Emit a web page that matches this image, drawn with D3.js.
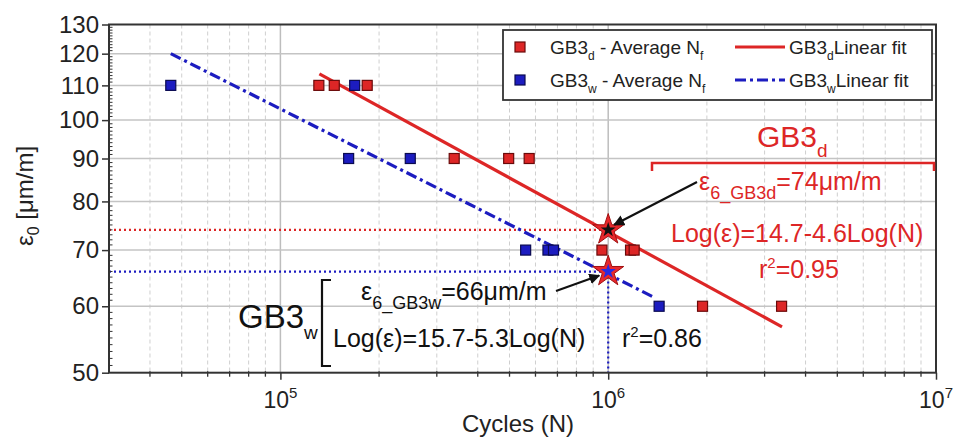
<!DOCTYPE html>
<html>
<head>
<meta charset="utf-8">
<script src="https://cdn.jsdelivr.net/npm/d3@7"></script>
<style>
  html, body { margin: 0; padding: 0; background: #fff; }
  svg { display: block; font-family: "Liberation Sans", Arial, sans-serif; }
</style>
</head>
<body>
<svg id="chart" width="955" height="437"></svg>
<script>
// Fatigue data: strain amplitude vs. average cycles to failure
const gb3dN = [1.31e5, 1.46e5, 1.84e5, 3.39e5, 4.97e5, 5.74e5, 9.57e5, 1.17e6, 1.2e6, 1.94e6, 3.38e6];
const gb3dE = [110, 110, 110, 90, 90, 90, 70, 70, 70, 60, 60];
const gb3wN = [4.63e4, 1.685e5, 1.615e5, 2.49e5, 5.6e5, 6.55e5, 6.81e5, 1.43e6];
const gb3wE = [110, 110, 90, 90, 70, 70, 70, 60];

// Linear fit (log-log) end points
const gb3dFitN = [1.315e5, 3.39e6];
const gb3dFitE = [113.5, 56.7];
const gb3wFitN = [4.63e4, 1.39e6];
const gb3wFitE = [120, 61.4];

// Strain at 10^6 cycles
const refN = 1e6;
const gb3dRefE = 74;
const gb3wRefE = 66;

// Axis ticks
const yMajorTicks = [50, 60, 70, 80, 90, 100, 110, 120, 130];
const xMajorTicks = [1e5, 1e6, 1e7];
const xTickExp = ["5", "6", "7"];

const RED = "#dd2626";
const RED_DARK = "#6a0a0a";
const BLUE = "#1c1cc0";
const BLUE_DARK = "#0a0a50";
const AXIS = "#333";

const svg = d3.select("#chart");
const L = 109, R = 936, T = 24.5, B = 372.7;

const x = d3.scaleLog().domain([3e4, 1e7]).range([L, R]);
const y = d3.scaleLog().domain([50, 130]).range([B, T]);

// Grid
const xMinor = [];
for (let e = 4; e <= 6; e++) for (let k = 1; k <= 9; k++) {
  const v = k * Math.pow(10, e);
  if (v > 3e4 && v < 1e7 && k !== 1) xMinor.push(v);
}
const grid = svg.append("g");
grid.selectAll(".vminor").data(xMinor).join("line")
  .attr("x1", d => x(d)).attr("x2", d => x(d)).attr("y1", T).attr("y2", B)
  .attr("stroke", "#cfcfcf").attr("stroke-width", 1).attr("stroke-dasharray", "4,3");
grid.selectAll(".vmajor").data([1e5, 1e6]).join("line")
  .attr("x1", d => x(d)).attr("x2", d => x(d)).attr("y1", T).attr("y2", B)
  .attr("stroke", "#bdbdbd").attr("stroke-width", 1.5);
grid.selectAll(".hmajor").data(yMajorTicks.slice(1, -1)).join("line")
  .attr("x1", L).attr("x2", R).attr("y1", d => y(d)).attr("y2", d => y(d))
  .attr("stroke", "#c4c4c4").attr("stroke-width", 1.5);

// Reference lines at 10^6 cycles
svg.append("line")
  .attr("x1", L).attr("x2", x(refN)).attr("y1", y(gb3dRefE)).attr("y2", y(gb3dRefE))
  .attr("stroke", RED).attr("stroke-width", 2.2).attr("stroke-dasharray", "2,3");
svg.append("line")
  .attr("x1", L).attr("x2", x(refN)).attr("y1", y(gb3wRefE)).attr("y2", y(gb3wRefE))
  .attr("stroke", BLUE).attr("stroke-width", 2.2).attr("stroke-dasharray", "2,3");
svg.append("line")
  .attr("x1", x(refN)).attr("x2", x(refN)).attr("y1", y(gb3wRefE)).attr("y2", B)
  .attr("stroke", BLUE).attr("stroke-width", 2.2).attr("stroke-dasharray", "2,3");

// Axes
const yAxis = svg.append("g").attr("transform", `translate(${L},0)`)
  .call(d3.axisLeft(y).tickValues(yMajorTicks).tickFormat(d3.format("d")).tickSize(7).tickSizeOuter(0));
yAxis.select(".domain").remove();
yAxis.selectAll("text").attr("font-size", 24).attr("fill", "#222").attr("x", -10)
  .style("font-family", "Liberation Sans, Arial, sans-serif");
yAxis.selectAll("line").attr("stroke", AXIS).attr("stroke-width", 1.5);

const yMinor = d3.range(50, 131, 1).filter(v => v % 10 !== 0);
svg.append("g").selectAll("line").data(yMinor).join("line")
  .attr("x1", L).attr("x2", L + 3.5).attr("y1", d => y(d)).attr("y2", d => y(d))
  .attr("stroke", AXIS).attr("stroke-width", 1);

const xAxis = svg.append("g").attr("transform", `translate(0,${B})`)
  .call(d3.axisBottom(x).tickValues(xMajorTicks).tickFormat("").tickSize(7).tickSizeOuter(0));
xAxis.select(".domain").remove();
xAxis.selectAll("line").attr("stroke", AXIS).attr("stroke-width", 1.5);
svg.append("g").selectAll("line").data(xMinor).join("line")
  .attr("x1", d => x(d)).attr("x2", d => x(d)).attr("y1", B - 1.5).attr("y2", B + 4)
  .attr("stroke", AXIS).attr("stroke-width", 1.3);

const xLab = svg.append("g").selectAll("text").data(xMajorTicks).join("text")
  .attr("x", d => x(d)).attr("y", 408).attr("text-anchor", "middle")
  .attr("font-size", 23).attr("fill", "#222");
xLab.append("tspan").text("10");
xLab.append("tspan").attr("dy", -10).attr("font-size", 15).text((d, i) => xTickExp[i]);

// Frame
svg.append("rect").attr("x", L).attr("y", T).attr("width", R - L).attr("height", B - T)
  .attr("fill", "none").attr("stroke", AXIS).attr("stroke-width", 2);

// Axis titles
svg.append("text").attr("x", 518).attr("y", 432).attr("text-anchor", "middle")
  .attr("font-size", 24).attr("fill", "#222").text("Cycles (N)");
const yt = svg.append("text").attr("transform", "translate(33,196) rotate(-90)")
  .attr("text-anchor", "middle").attr("font-size", 24).attr("fill", "#222");
yt.append("tspan").text("ε");
yt.append("tspan").attr("dy", 6).attr("font-size", 16).text("0");
yt.append("tspan").attr("dy", -6).text(" [μm/m]");

// Fit lines
const fitLine = d3.line().x(d => x(d[0])).y(d => y(d[1]));
svg.append("path").datum(d3.zip(gb3wFitN, gb3wFitE)).attr("d", fitLine)
  .attr("fill", "none").attr("stroke", BLUE).attr("stroke-width", 3.2)
  .attr("stroke-dasharray", "11,4,3,4");
svg.append("path").datum(d3.zip(gb3dFitN, gb3dFitE)).attr("d", fitLine)
  .attr("fill", "none").attr("stroke", RED).attr("stroke-width", 3.2);

// Data squares
const sq = 10;
svg.append("g").selectAll("rect").data(d3.zip(gb3dN, gb3dE)).join("rect")
  .attr("x", d => x(d[0]) - sq / 2).attr("y", d => y(d[1]) - sq / 2)
  .attr("width", sq).attr("height", sq)
  .attr("fill", RED).attr("stroke", RED_DARK).attr("stroke-width", 1.2);
svg.append("g").selectAll("rect").data(d3.zip(gb3wN, gb3wE)).join("rect")
  .attr("x", d => x(d[0]) - sq / 2).attr("y", d => y(d[1]) - sq / 2)
  .attr("width", sq).attr("height", sq)
  .attr("fill", BLUE).attr("stroke", BLUE_DARK).attr("stroke-width", 1.2);

// Stars at 10^6 cycles
const bigStar = d3.symbol().type(d3.symbolStar).size(300)();
const smallStar = d3.symbol().type(d3.symbolStar).size(70)();
[[gb3dRefE, "#111"], [gb3wRefE, "#2a2ae0"]].forEach(([e, c]) => {
  const g = svg.append("g").attr("transform", `translate(${x(refN)},${y(e)})`);
  g.append("path").attr("d", bigStar).attr("fill", "#e8282c").attr("stroke", "#a01010").attr("stroke-width", 1);
  g.append("path").attr("d", smallStar).attr("fill", c);
});

// Arrows
svg.append("defs").append("marker").attr("id", "ah")
  .attr("viewBox", "0 0 10 10").attr("refX", 9).attr("refY", 5)
  .attr("markerWidth", 5).attr("markerHeight", 5).attr("orient", "auto")
  .append("path").attr("d", "M0,0 L10,5 L0,10 z").attr("fill", "#111");
svg.append("line").attr("x1", 697).attr("y1", 182)
  .attr("x2", x(refN) + 6).attr("y2", y(gb3dRefE) - 5)
  .attr("stroke", "#111").attr("stroke-width", 2.2).attr("marker-end", "url(#ah)");
svg.append("line").attr("x1", 556).attr("y1", 291)
  .attr("x2", x(refN) - 9).attr("y2", y(gb3wRefE) + 4)
  .attr("stroke", "#111").attr("stroke-width", 2.2).attr("marker-end", "url(#ah)");

// GB3d annotations
const gd = svg.append("text").attr("x", 757).attr("y", 147).attr("font-size", 30).attr("fill", RED);
gd.append("tspan").text("GB3");
gd.append("tspan").attr("dy", 10).attr("font-size", 19).text("d");
svg.append("path").attr("d", "M652,171 V163 H934 V171")
  .attr("fill", "none").attr("stroke", RED).attr("stroke-width", 2.5);
const e6d = svg.append("text").attr("x", 699).attr("y", 190).attr("font-size", 25).attr("fill", RED);
e6d.append("tspan").text("ε");
e6d.append("tspan").attr("dy", 9).attr("font-size", 18).text("6_GB3d");
e6d.append("tspan").attr("dy", -9).text("=74μm/m");
svg.append("text").attr("x", 671).attr("y", 242).attr("font-size", 25).attr("fill", RED)
  .text("Log(ε)=14.7-4.6Log(N)");
const r2d = svg.append("text").attr("x", 759).attr("y", 278).attr("font-size", 25).attr("fill", RED);
r2d.append("tspan").text("r");
r2d.append("tspan").attr("dy", -10).attr("font-size", 15).text("2");
r2d.append("tspan").attr("dy", 10).text("=0.95");

// GB3w annotations
const gw = svg.append("text").attr("x", 238).attr("y", 328).attr("font-size", 33).attr("fill", "#111");
gw.append("tspan").text("GB3");
gw.append("tspan").attr("dy", 11).attr("font-size", 19).text("w");
svg.append("path").attr("d", "M331,280 H322 V366 H331")
  .attr("fill", "none").attr("stroke", "#111").attr("stroke-width", 2.2);
const e6w = svg.append("text").attr("x", 361).attr("y", 300).attr("font-size", 25).attr("fill", "#111");
e6w.append("tspan").text("ε");
e6w.append("tspan").attr("dy", 9).attr("font-size", 18).text("6_GB3w");
e6w.append("tspan").attr("dy", -9).text("=66μm/m");
svg.append("text").attr("x", 333).attr("y", 347).attr("font-size", 25).attr("fill", "#111")
  .text("Log(ε)=15.7-5.3Log(N)");
const r2w = svg.append("text").attr("x", 622).attr("y", 347).attr("font-size", 25).attr("fill", "#111");
r2w.append("tspan").text("r");
r2w.append("tspan").attr("dy", -10).attr("font-size", 15).text("2");
r2w.append("tspan").attr("dy", 10).text("=0.86");

// Legend
const lg = svg.append("g");
lg.append("rect").attr("x", 503).attr("y", 30).attr("width", 429).attr("height", 70)
  .attr("fill", "#fff").attr("stroke", AXIS).attr("stroke-width", 1.8);
const legendRows = [
  { name: "GB3", sub: "d", color: RED, dark: RED_DARK, dash: null, cy: 47 },
  { name: "GB3", sub: "w", color: BLUE, dark: BLUE_DARK, dash: "11,4,3,4", cy: 80 }
];
legendRows.forEach(r => {
  lg.append("rect").attr("x", 515).attr("y", r.cy - 5).attr("width", 10).attr("height", 10)
    .attr("fill", r.color).attr("stroke", r.dark).attr("stroke-width", 1.2);
  const t1 = lg.append("text").attr("x", 550).attr("y", r.cy + 7).attr("font-size", 19).attr("fill", "#222");
  t1.append("tspan").text(r.name);
  t1.append("tspan").attr("dy", 6).attr("font-size", 12).text(r.sub);
  t1.append("tspan").attr("dy", -6).text(" - Average N");
  t1.append("tspan").attr("dy", 6).attr("font-size", 12).text("f");
  lg.append("line").attr("x1", 735).attr("x2", 785).attr("y1", r.cy).attr("y2", r.cy)
    .attr("stroke", r.color).attr("stroke-width", 3.2).attr("stroke-dasharray", r.dash);
  const t2 = lg.append("text").attr("x", 789).attr("y", r.cy + 7).attr("font-size", 19).attr("fill", "#222");
  t2.append("tspan").text(r.name);
  t2.append("tspan").attr("dy", 6).attr("font-size", 12).text(r.sub);
  t2.append("tspan").attr("dy", -6).text("Linear fit");
});
</script>
</body>
</html>
